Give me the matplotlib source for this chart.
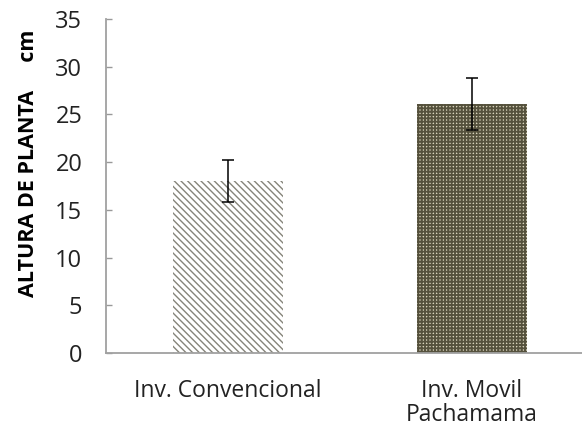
import matplotlib
matplotlib.use("Agg")
import matplotlib.pyplot as plt

categories = ["Inv. Convencional", "Inv. Movil\nPachamama"]
values = [18.0, 26.1]
errors = [2.2, 2.75]
yticks = [0, 5, 10, 15, 20, 25, 30, 35]

plt.rcParams['font.family'] = ['Open Sans', 'DejaVu Sans']
plt.rcParams['hatch.linewidth'] = 1.1

fig = plt.figure(figsize=(5.82, 4.33), dpi=100)
ax = fig.add_axes([106/582, 80/433, 488/582, 334/433])

x = list(range(len(categories)))
b1 = ax.bar(x[0], values[0], width=0.45, facecolor='white', edgecolor='#85847a',
            hatch='\\\\\\\\\\', linewidth=0)
b2 = ax.bar(x[1], values[1], width=0.45, facecolor='#d8d3bc', edgecolor='#55513d',
            hatch='+++++', linewidth=0)
for p in b1.patches:
    if hasattr(p, 'set_hatch_linewidth'):
        p.set_hatch_linewidth(1.0)
for p in b2.patches:
    if hasattr(p, 'set_hatch_linewidth'):
        p.set_hatch_linewidth(1.35)

ax.errorbar(x, values, yerr=errors, fmt='none', ecolor='black', elinewidth=1.1,
            capsize=4.5, capthick=1.1)

ax.set_xlim(-0.5, 1.5)
ax.set_ylim(0, 35)
ax.set_yticks(yticks)
ax.set_xticks(x)
ax.set_xticklabels(categories, fontsize=16.5, color='#222222', linespacing=1.0)
ax.tick_params(axis='y', direction='in', length=4.5, width=1, color='#999999',
               labelsize=17, labelcolor='#222222', pad=17)
ax.tick_params(axis='x', length=0, pad=19)

for s in ['top', 'right']:
    ax.spines[s].set_visible(False)
for s in ['left', 'bottom']:
    ax.spines[s].set_color('#a0a0a0')
    ax.spines[s].set_linewidth(1.3)

ax.set_ylabel("ALTURA DE PLANTA     cm", fontsize=15.5, fontweight='bold')
ax.yaxis.set_label_coords(-0.138, 0.569)

fig.savefig("out.png", dpi=100)
